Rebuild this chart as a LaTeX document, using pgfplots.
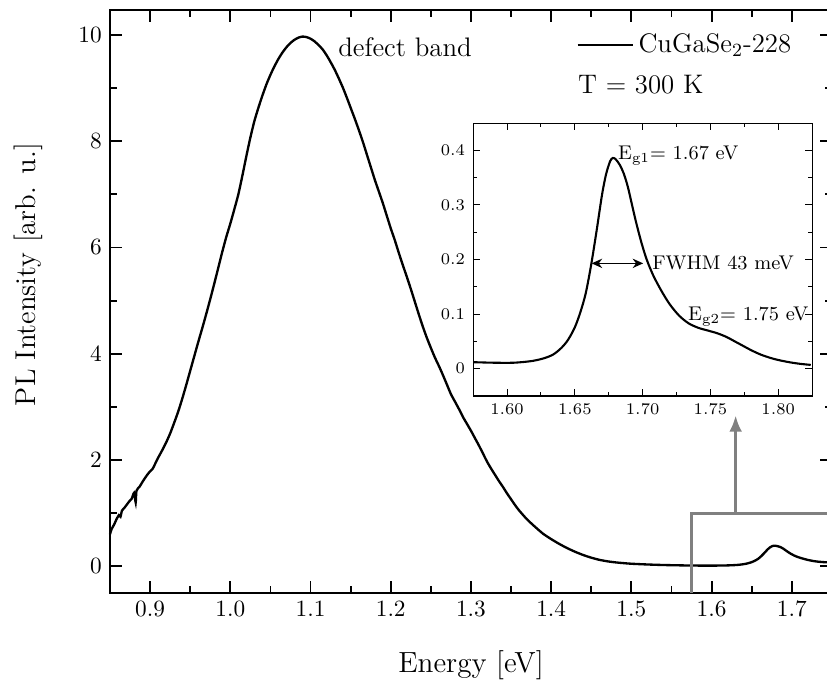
\documentclass[border=0pt]{standalone}
\usepackage{pgfplots}
\pgfplotsset{compat=1.18}
\usepackage{pgfplotstable}
\usetikzlibrary{calc,arrows.meta}
\definecolor{boxgray}{RGB}{128,128,128}

% PL spectrum, energy [eV] vs intensity [arb. u.]
\pgfplotstableread{
E I
0.850 0.60
0.852 0.70
0.855 0.78
0.858 0.88
0.861 0.96
0.863 0.93
0.865 1.05
0.868 1.10
0.871 1.16
0.874 1.22
0.877 1.27
0.880 1.38
0.882 1.20
0.883 1.42
0.887 1.50
0.891 1.60
0.895 1.69
0.899 1.77
0.903 1.83
0.907 1.95
0.911 2.07
0.915 2.18
0.920 2.33
0.925 2.50
0.930 2.70
0.935 2.91
0.940 3.15
0.945 3.41
0.950 3.68
0.955 3.95
0.960 4.22
0.965 4.48
0.970 4.75
0.975 5.03
0.980 5.32
0.985 5.62
0.990 5.92
0.995 6.20
1.000 6.45
1.005 6.72
1.010 7.00
1.015 7.35
1.020 7.72
1.025 8.07
1.030 8.38
1.035 8.63
1.040 8.86
1.045 9.07
1.050 9.25
1.055 9.41
1.060 9.55
1.065 9.67
1.070 9.77
1.075 9.85
1.080 9.91
1.085 9.95
1.090 9.97
1.095 9.96
1.100 9.93
1.105 9.88
1.110 9.81
1.115 9.73
1.120 9.62
1.125 9.49
1.130 9.35
1.135 9.19
1.140 9.02
1.145 8.83
1.150 8.63
1.155 8.43
1.160 8.22
1.165 8.00
1.170 7.76
1.175 7.52
1.180 7.28
1.185 7.06
1.190 6.84
1.195 6.60
1.200 6.36
1.205 6.14
1.210 5.90
1.215 5.67
1.220 5.45
1.225 5.22
1.230 4.98
1.235 4.74
1.240 4.51
1.245 4.30
1.250 4.11
1.255 3.93
1.260 3.77
1.265 3.60
1.270 3.42
1.275 3.24
1.280 3.10
1.285 2.96
1.290 2.81
1.295 2.68
1.300 2.55
1.305 2.41
1.310 2.27
1.315 2.12
1.320 1.97
1.325 1.84
1.330 1.72
1.335 1.60
1.340 1.49
1.345 1.37
1.350 1.26
1.355 1.15
1.360 1.05
1.370 0.88
1.380 0.74
1.390 0.61
1.400 0.51
1.410 0.42
1.420 0.34
1.430 0.27
1.440 0.21
1.450 0.16
1.460 0.12
1.470 0.092
1.480 0.072
1.490 0.058
1.500 0.046
1.520 0.032
1.540 0.022
1.560 0.016
1.575 0.012
1.590 0.011
1.605 0.011
1.618 0.014
1.627 0.019
1.634 0.026
1.640 0.038
1.645 0.053
1.650 0.076
1.654 0.103
1.658 0.138
1.662 0.190
1.666 0.252
1.670 0.318
1.673 0.356
1.676 0.380
1.678 0.386
1.680 0.384
1.683 0.374
1.686 0.358
1.689 0.334
1.692 0.302
1.695 0.270
1.699 0.232
1.703 0.200
1.708 0.170
1.714 0.142
1.720 0.118
1.727 0.097
1.734 0.083
1.741 0.075
1.748 0.070
1.755 0.065
1.762 0.058
1.768 0.050
1.774 0.042
1.780 0.034
1.787 0.026
1.794 0.020
1.800 0.016
1.808 0.012
1.816 0.009
1.824 0.007
}\spec

\begin{document}
\begin{tikzpicture}
\begin{axis}[
  name=main,
  scale only axis,
  width=309.7pt, height=250pt,
  xmin=0.85, xmax=1.75,
  ymin=-0.5, ymax=10.47,
  xtick distance=0.1,
  ytick={0,2,4,6,8,10},
  minor x tick num=1,
  minor y tick num=1,
  tick align=inside,
  major tick length=5pt,
  minor tick length=3pt,
  axis line style={line width=0.8pt},
  every tick/.style={line width=0.8pt, black},
  xticklabel style={/pgf/number format/.cd, fixed, fixed zerofill, precision=1},
  xlabel={Energy [eV]},
  ylabel={PL Intensity [arb. u.]},
  every axis x label/.style={at={(axis description cs:0.5,-0.124)}, anchor=center,
    font=\fontsize{12.5}{15}\selectfont},
  every axis y label/.style={at={(axis description cs:-0.1136,0.546)}, anchor=center, rotate=90,
    font=\fontsize{12.3}{15}\selectfont},
  legend style={draw=none, fill=none, font=\fontsize{11.5}{14}\selectfont,
    at={(axis cs:1.431,9.81)}, anchor=west, inner sep=0pt},
  legend image code/.code={\draw[#1] (0cm,0cm) -- (0.83cm,0cm);},
  clip=false,
]
\addplot[black, line width=1pt, smooth, tension=0.4, restrict x to domain=0.85:1.76] table[x=E, y=I] {\spec};
\addlegendentry{CuGaSe$_2$-228}

\node[anchor=west, inner sep=0pt, font=\fontsize{11.5}{14}\selectfont] at (axis cs:1.433,9.06) {T = 300 K};
\node[anchor=west, inner sep=0pt, font=\fontsize{11.5}{14}\selectfont] at (axis cs:1.134,9.77) {defect band};

\draw[boxgray, line width=1.3pt] (axis cs:1.575,-0.5) -- (axis cs:1.575,1.0) -- (axis cs:1.80,1.0);
\draw[boxgray, line width=1.3pt, -{Latex[length=7pt,width=5.5pt]}] (axis cs:1.63,1.0) -- (axis cs:1.63,2.84);
\end{axis}

\begin{axis}[
  at={($(main.south west)+(155.8pt,84.4pt)$)},
  anchor=south west,
  scale only axis,
  width=145.4pt, height=117.1pt,
  xmin=1.575, xmax=1.825,
  ymin=-0.05, ymax=0.45,
  xtick={1.60,1.65,...,1.81},
  ytick={0,0.1,0.2,0.3,0.4},
  minor x tick num=1,
  minor y tick num=1,
  tick align=inside,
  major tick length=3pt,
  minor tick length=1.7pt,
  axis line style={line width=0.45pt},
  every tick/.style={line width=0.45pt, black},
  tick label style={font=\scriptsize},
  xticklabel style={/pgf/number format/.cd, fixed, fixed zerofill, precision=2},
  yticklabel style={/pgf/number format/.cd, fixed},
]
\addplot[black, line width=0.9pt, smooth, tension=0.5, restrict x to domain=1.57:1.83] table[x=E, y=I] {\spec};

\draw[line width=0.7pt, {Stealth[length=4.5pt,width=4pt]}-{Stealth[length=4.5pt,width=4pt]}] (axis cs:1.6624,0.193) -- (axis cs:1.7004,0.193);
\node[anchor=base west, inner sep=0pt, font=\fontsize{8.5}{10}\selectfont] at (axis cs:1.6816,0.383) {E\textsubscript{g1}= 1.67 eV};
\node[anchor=base west, inner sep=0pt, font=\fontsize{8.5}{10}\selectfont] at (axis cs:1.7068,0.1824) {FWHM 43 meV};
\node[anchor=base west, inner sep=0pt, font=\fontsize{8.5}{10}\selectfont] at (axis cs:1.7333,0.0881) {E\textsubscript{g2}= 1.75 eV};
\end{axis}

\pgfresetboundingbox
\useasboundingbox ($(main.south west)+(-47.2pt,-39.2pt)$) rectangle ($(main.north east)+(-2.1pt,4.3pt)$);
\end{tikzpicture}
\end{document}
